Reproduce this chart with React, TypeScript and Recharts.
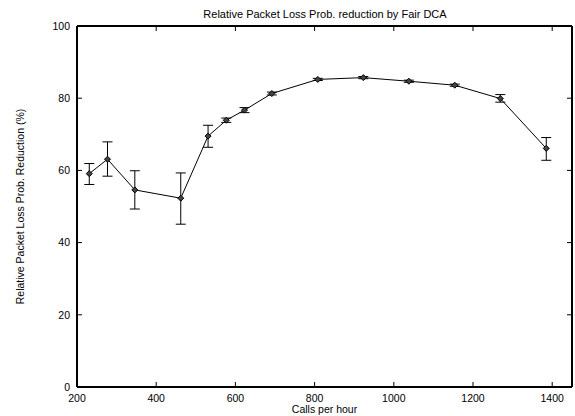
import { LineChart, Line, XAxis, YAxis, ErrorBar } from 'recharts';

const calls = [231, 277, 346, 462, 531, 577, 623, 692, 808, 923, 1038, 1154, 1269, 1385];
const reduction = [59.1, 63.1, 54.6, 52.3, 69.5, 73.9, 76.7, 81.3, 85.2, 85.7, 84.7, 83.6, 79.9, 66.1];
const errLow = [3.0, 4.7, 5.3, 7.2, 3.1, 0.6, 0.7, 0.4, 0.3, 0.3, 0.3, 0.3, 1.0, 3.3];
const errHigh = [2.8, 4.8, 5.3, 7.0, 3.0, 0.6, 0.7, 0.4, 0.3, 0.3, 0.3, 0.3, 1.1, 3.0];

const xTicks = [200, 400, 600, 800, 1000, 1200, 1400];
const yTicks = [0, 20, 40, 60, 80, 100];

const data = calls.map((c, i) => ({
  calls: c,
  reduction: reduction[i],
  err: [errLow[i], errHigh[i]],
}));

const FONT = '"Liberation Sans", Arial, Helvetica, sans-serif';
const INK = '#000';

// gnuplot style: ticks point inward, labels outside
const BottomTick = (p: any) => (
  <g>
    <line x1={p.x} y1={p.y} x2={p.x} y2={p.y - 5} stroke={INK} />
    <text x={p.x} y={p.y + 15} textAnchor="middle" fontSize={10.5} fontFamily={FONT} fill={INK}>
      {p.payload.value}
    </text>
  </g>
);

const LeftTick = (p: any) => (
  <g>
    <line x1={p.x} y1={p.y} x2={p.x + 5} y2={p.y} stroke={INK} />
    <text x={p.x - 7} y={p.y} dy="0.36em" textAnchor="end" fontSize={10.5} fontFamily={FONT} fill={INK}>
      {p.payload.value}
    </text>
  </g>
);

const TopTick = (p: any) => <line x1={p.x} y1={p.y} x2={p.x} y2={p.y + 5} stroke={INK} />;
const RightTick = (p: any) => <line x1={p.x} y1={p.y} x2={p.x - 5} y2={p.y} stroke={INK} />;

const Diamond = (p: any) => {
  const { cx, cy } = p;
  if (cx == null || cy == null) return null;
  const r = 3;
  return (
    <path
      d={`M${cx},${cy - r}L${cx + r},${cy}L${cx},${cy + r}L${cx - r},${cy}Z`}
      fill="#444"
      stroke={INK}
      strokeWidth={1}
    />
  );
};

export default function App() {
  return (
    <div style={{ position: 'absolute', left: 0, top: 0, width: 575, height: 416, background: '#fff' }}>
      <style>{`body{margin:0}`}</style>
      <LineChart width={575} height={416} data={data} margin={{ top: 25, right: 2, bottom: 0, left: 0 }}>
        <text x={325} y={17.5} textAnchor="middle" fontSize={11} fontFamily={FONT} fill={INK}>
          Relative Packet Loss Prob. reduction by Fair DCA
        </text>
        <XAxis
          dataKey="calls"
          type="number"
          domain={[200, 1450]}
          ticks={xTicks}
          allowDataOverflow
          height={29}
          tickSize={0}
          tickMargin={0}
          tick={BottomTick}
          axisLine={{ stroke: INK, strokeWidth: 2 }}
          label={{ value: 'Calls per hour', position: 'insideBottom', offset: 3, fontSize: 10.5, fontFamily: FONT, fill: INK }}
        />
        <XAxis
          xAxisId="top"
          orientation="top"
          dataKey="calls"
          type="number"
          domain={[200, 1450]}
          ticks={xTicks}
          allowDataOverflow
          height={1}
          tickSize={0}
          tickMargin={0}
          tick={TopTick}
          axisLine={{ stroke: INK, strokeWidth: 2 }}
        />
        <YAxis
          type="number"
          domain={[0, 100]}
          ticks={yTicks}
          allowDataOverflow
          width={77}
          tickSize={0}
          tickMargin={0}
          tick={LeftTick}
          axisLine={{ stroke: INK, strokeWidth: 2 }}
          label={{
            value: 'Relative Packet Loss Prob. Reduction (%)',
            angle: -90,
            position: 'insideLeft',
            offset: 20,
            style: { textAnchor: 'middle' },
            fontSize: 10.5,
            fontFamily: FONT,
            fill: INK,
          }}
        />
        <YAxis
          yAxisId="right"
          orientation="right"
          type="number"
          domain={[0, 100]}
          ticks={yTicks}
          allowDataOverflow
          width={1}
          tickSize={0}
          tickMargin={0}
          tick={RightTick}
          axisLine={{ stroke: INK, strokeWidth: 2 }}
        />
        {/* invisible twin so the top and right frame axes have a series */}
        <Line
          xAxisId="top"
          yAxisId="right"
          dataKey="reduction"
          stroke="none"
          dot={false}
          activeDot={false}
          isAnimationActive={false}
        />
        <Line
          dataKey="reduction"
          type="linear"
          stroke={INK}
          strokeWidth={1}
          dot={Diamond}
          activeDot={false}
          isAnimationActive={false}
        >
          <ErrorBar dataKey="err" width={5} stroke={INK} strokeWidth={1} direction="y" />
        </Line>
      </LineChart>
    </div>
  );
}
